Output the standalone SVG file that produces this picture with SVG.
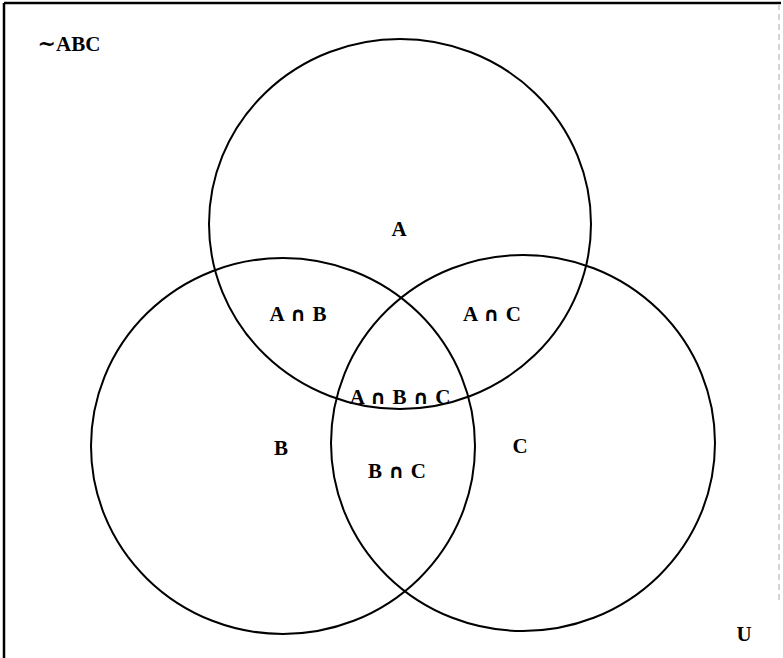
<svg xmlns="http://www.w3.org/2000/svg" width="783" height="658" viewBox="0 0 783 658">
  <style>
    .set { fill: none; stroke: #000; stroke-width: 2; }
    .frame { stroke: #000; stroke-width: 2.5; fill: none; }
    .frame-faint { stroke: #c8c8c8; stroke-width: 1.5; stroke-dasharray: 6 4; fill: none; }
    .lbl { font-family: "Liberation Serif", "DejaVu Serif", serif; font-size: 21px; font-weight: bold; fill: #000; text-anchor: middle; word-spacing: 1px; }
    .cap { font-family: "DejaVu Sans", sans-serif; font-size: 20px; font-weight: bold; }
    .tilde { font-family: "DejaVu Sans", sans-serif; font-size: 22px; }
  </style>
  <rect width="783" height="658" fill="#fff"/>

  <!-- universe frame -->
  <g id="universe">
    <line class="frame" x1="4" y1="3" x2="781" y2="3"/>
    <line class="frame" x1="4" y1="3" x2="4" y2="658"/>
    <line class="frame-faint" x1="779" y1="4" x2="779" y2="600"/>
    <text class="lbl" x="744" y="641">U</text>
    <text class="lbl" x="69" y="51"><tspan class="tilde">~</tspan>ABC</text>
  </g>

  <!-- set outlines -->
  <g id="set-a">
    <ellipse class="set" cx="400" cy="224" rx="191" ry="185"/>
    <text class="lbl" x="399" y="236">A</text>
  </g>
  <g id="set-b">
    <ellipse class="set" cx="283" cy="446" rx="192" ry="188"/>
    <text class="lbl" x="281" y="455">B</text>
  </g>
  <g id="set-c">
    <ellipse class="set" cx="523" cy="443" rx="192" ry="188"/>
    <text class="lbl" x="520" y="453">C</text>
  </g>

  <!-- intersection regions -->
  <g id="a-and-b"><text class="lbl" x="298" y="321">A <tspan class="cap">∩</tspan> B</text></g>
  <g id="a-and-c"><text class="lbl" x="492" y="321">A <tspan class="cap">∩</tspan> C</text></g>
  <g id="a-and-b-and-c"><text class="lbl" x="400" y="404">A <tspan class="cap">∩</tspan> B <tspan class="cap">∩</tspan> C</text></g>
  <g id="b-and-c"><text class="lbl" x="397" y="478">B <tspan class="cap">∩</tspan> C</text></g>
</svg>
